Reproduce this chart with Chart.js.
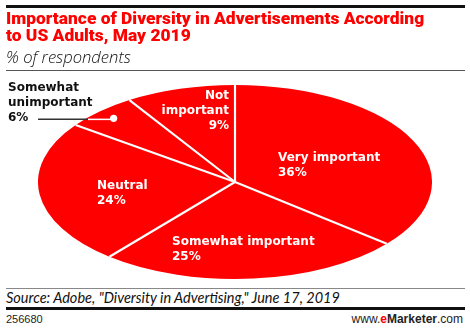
<!DOCTYPE html>
<html>
<head>
<meta charset="utf-8">
<script src="https://cdn.jsdelivr.net/npm/chart.js@4/dist/chart.umd.min.js"></script>
<style>
  body { margin: 0; background: #fff; }
  #page { position: relative; width: 470px; height: 330px; overflow: hidden; font-family: "Liberation Sans", Arial, sans-serif; }
  .rule { position: absolute; left: 6px; width: 459px; }
  #title { position: absolute; left: 6px; top: 10px; color: #f00; font: 900 17.4px/17px Roboto, sans-serif; z-index: 2; }
  #subtitle { position: absolute; left: 6px; top: 45px; color: #111; font: italic 300 16.6px "Open Sans", sans-serif; z-index: 2; }
  #pieBox { position: absolute; left: 38px; top: -15px; width: 394px; height: 394px; z-index: 1; }
  .lbl { position: absolute; color: #fff; font: bold 12px/15px "DejaVu Sans", sans-serif; z-index: 3; white-space: nowrap; }
  #source { position: absolute; left: 6px; top: 289px; font: italic 14.5px Lato, sans-serif; color: #111; }
  #code { position: absolute; left: 6px; top: 313px; font: 11px "Liberation Sans", sans-serif; color: #222; }
  #site { position: absolute; right: 7px; top: 312px; font: 12px "Liberation Sans", sans-serif; color: #222; }
</style>
</head>
<body>
<div id="page">
  <div class="rule" style="top:5px;height:3px;background:#111"></div>
  <div id="title">Importance of Diversity in Advertisements According<br>to US Adults, May 2019</div>
  <div id="subtitle">% of respondents</div>
  <div class="rule" style="top:70px;height:1px;background:#555"></div>
  <div id="pieBox"><canvas id="pie"></canvas></div>
  <div class="rule" style="top:288px;height:1px;background:#888"></div>
  <div id="source">Source: Adobe, "Diversity in Advertising," June 17, 2019</div>
  <div class="rule" style="top:307px;height:3px;background:#111"></div>
  <div id="code">256680</div>
  <div id="site">www.<b style="color:#f00">e</b><b>Marketer</b>.com</div>
</div>
<script>
// Slices run clockwise from 12 o'clock
const categories = ['Very important', 'Somewhat important', 'Neutral', 'Somewhat unimportant', 'Not important'];
const shares = [36, 25, 24, 6, 9];

// label boxes on the page: [left, top, align]
const labelSpots = [
  [278, 150, 'left'],
  [172, 234, 'left'],
  [97, 178, 'left'],
  [8, 80, 'left'],
  [229, 88, 'right']
];
const labelLines = [
  ['Very important'],
  ['Somewhat important'],
  ['Neutral'],
  ['Somewhat', 'unimportant'],
  ['Not', 'important']
];

const RX = 197, RY = 97;   // ellipse radii
const squash = RY / RX;

// squash the round pie into an ellipse and draw white separators
const ellipsePlugin = {
  id: 'ellipse',
  beforeDatasetsDraw(chart) {
    const arc = chart.getDatasetMeta(0).data[0];
    const ctx = chart.ctx;
    ctx.save();
    ctx.translate(arc.x, arc.y);
    ctx.scale(1, squash);
    ctx.translate(-arc.x, -arc.y);
  },
  afterDatasetsDraw(chart) {
    const ctx = chart.ctx;
    ctx.restore();
    const arcs = chart.getDatasetMeta(0).data;
    ctx.save();
    ctx.strokeStyle = '#fff';
    ctx.lineWidth = 2.2;
    arcs.forEach(a => {
      const r = a.outerRadius;
      ctx.beginPath();
      ctx.moveTo(a.x, a.y);
      ctx.lineTo(a.x + Math.cos(a.startAngle) * r, a.y + Math.sin(a.startAngle) * r * squash);
      ctx.stroke();
    });
    // leader for the small slice
    const s = arcs[3];
    const mid = (s.startAngle + s.endAngle) / 2;
    const dx = s.x + Math.cos(mid) * s.outerRadius * 0.9;
    const dy = s.y + Math.sin(mid) * s.outerRadius * 0.9 * squash;
    const edgeX = 88 - 38;
    ctx.lineWidth = 1.5;
    ctx.strokeStyle = '#333';
    ctx.beginPath();
    ctx.moveTo(30 - 38, dy + 1);
    ctx.lineTo(edgeX, dy + 1);
    ctx.stroke();
    ctx.strokeStyle = '#fff';
    ctx.beginPath();
    ctx.moveTo(edgeX, dy + 1);
    ctx.lineTo(dx, dy + 1);
    ctx.stroke();
    ctx.fillStyle = '#fff';
    ctx.beginPath();
    ctx.arc(dx, dy, 3.6, 0, Math.PI * 2);
    ctx.fill();
    ctx.restore();
  }
};

new Chart(document.getElementById('pie'), {
  type: 'pie',
  data: {
    labels: categories,
    datasets: [{
      data: shares,
      backgroundColor: '#fe0000',
      borderWidth: 0
    }]
  },
  options: {
    responsive: true,
    maintainAspectRatio: false,
    animation: false,
    layout: { padding: 0 },
    plugins: { legend: { display: false }, tooltip: { enabled: false } }
  },
  plugins: [ellipsePlugin]
});

// slice labels, built from the same values as the slices
const page = document.getElementById('page');
categories.forEach((c, i) => {
  const [x, y, align] = labelSpots[i];
  const el = document.createElement('div');
  el.className = 'lbl';
  el.innerHTML = labelLines[i].join('<br>') + '<br>' + shares[i] + '%';
  el.style.top = y + 'px';
  el.style.textAlign = align;
  if (align === 'right') el.style.right = (470 - x) + 'px';
  else el.style.left = x + 'px';
  if (i === 3) el.style.color = '#111';
  page.appendChild(el);
});
</script>
</body>
</html>
